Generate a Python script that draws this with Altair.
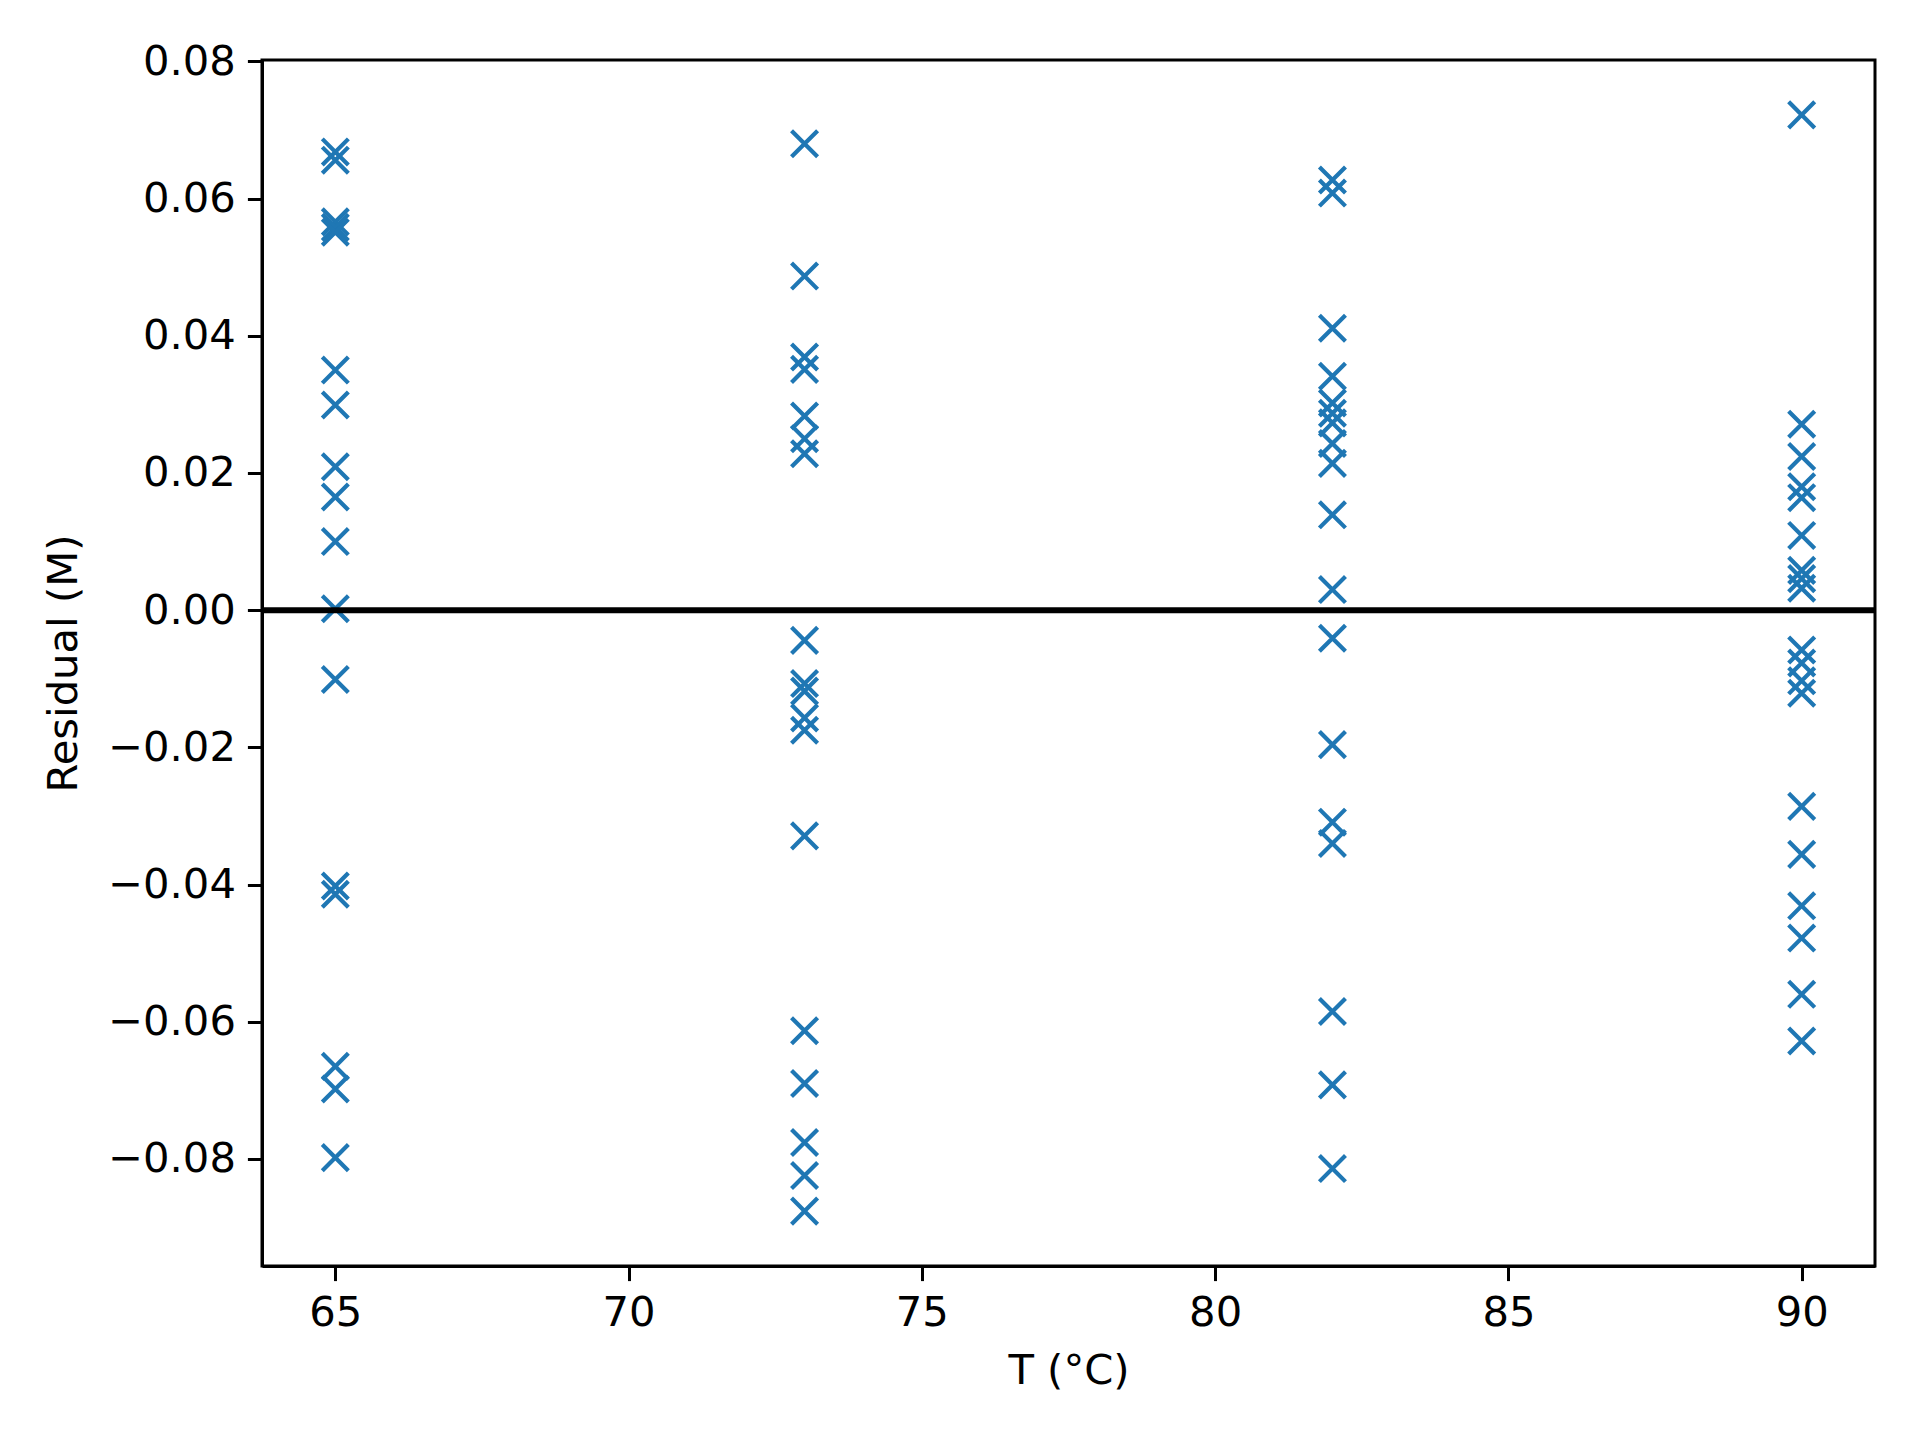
import altair as alt
import pandas as pd

# Residuals, grouped by temperature (°C)
res_65 = [0.0668, 0.0656, 0.0566, 0.0558, 0.0551, 0.0350, 0.0299, 0.0209, 0.0165,
          0.0100, 0.0002, -0.0101, -0.0402, -0.0414, -0.0665, -0.0698, -0.0798]
res_73 = [0.0680, 0.0487, 0.0369, 0.0351, 0.0283, 0.0250, 0.0228, -0.0044, -0.0107,
          -0.0118, -0.0157, -0.0175, -0.0329, -0.0613, -0.0690, -0.0776, -0.0824, -0.0876]
res_82 = [0.0627, 0.0608, 0.0411, 0.0341, 0.0302, 0.0287, 0.0273, 0.0243, 0.0214,
          0.0139, 0.0030, -0.0041, -0.0196, -0.0309, -0.0340, -0.0585, -0.0692, -0.0814]
res_90 = [0.0722, 0.0271, 0.0224, 0.0180, 0.0164, 0.0109, 0.0058, 0.0046, 0.0032,
          -0.0058, -0.0077, -0.0103, -0.0121, -0.0286, -0.0356, -0.0431,
          -0.0478, -0.0560, -0.0628]

temps = [65, 73, 82, 90]
groups = [res_65, res_73, res_82, res_90]

x_ticks = [65, 70, 75, 80, 85, 90]
y_ticks = [-0.08, -0.06, -0.04, -0.02, 0.0, 0.02, 0.04, 0.06, 0.08]

rows = []
for t, g in zip(temps, groups):
    for r in g:
        rows.append({"T": t, "Residual": r})
df = pd.DataFrame(rows)

FONT = "DejaVu Sans"
FS = 41.7
LW = 3.0

x_enc = alt.X("T:Q", scale=alt.Scale(domain=[63.75, 91.25], nice=False, zero=False),
              axis=alt.Axis(values=x_ticks, title="T (°C)", format="d", grid=False,
                            tickSize=14.6, tickWidth=LW, labelPadding=12,
                            titlePadding=16, domainWidth=LW, domainColor="black",
                            tickColor="black"))
y_enc = alt.Y("Residual:Q", scale=alt.Scale(domain=[-0.0956, 0.0802], nice=False, zero=False),
              axis=alt.Axis(values=y_ticks, title="Residual (M)", grid=False,
                            labelExpr="replace(format(datum.value, '.2f'), '-', '\u2212')",
                            tickSize=14.6, tickWidth=LW, labelPadding=12,
                            titlePadding=22, domainWidth=LW, domainColor="black",
                            tickColor="black"))

points = alt.Chart(df).mark_point(
    shape="M-1,-1L1,1M1,-1L-1,1", filled=False, color="#1f77b4",
    strokeWidth=4.2, size=680, opacity=1
).encode(x=x_enc, y=y_enc)

zero = alt.Chart(pd.DataFrame({"y": [0.0]})).mark_rule(
    color="black", strokeWidth=6
).encode(y="y:Q")

chart = alt.layer(points, zero).properties(
    width=1613, height=1206,
    autosize="none",
    padding={"left": 254, "top": 52, "right": 37, "bottom": 166},
).configure_view(
    stroke="black", strokeWidth=LW
).configure_axis(
    labelFont=FONT, titleFont=FONT, labelFontSize=FS, titleFontSize=FS,
    labelColor="black", titleColor="black", titleFontWeight="normal"
)

chart.save("out.html", embed_options={"renderer": "svg", "actions": False})
